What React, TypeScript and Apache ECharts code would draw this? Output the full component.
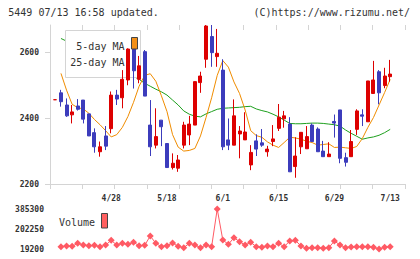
import React, { useEffect, useRef } from 'react';
import * as echarts from 'echarts';

const dates = [
  '4/14', '4/15', '4/16', '4/17', '4/20', '4/21', '4/22', '4/23', '4/24', '4/27',
  '4/28', '4/30', '5/1', '5/7', '5/8', '5/11', '5/12', '5/13', '5/14', '5/15',
  '5/18', '5/19', '5/20', '5/21', '5/22', '5/25', '5/26', '5/27', '5/28', '5/29',
  '6/1', '6/2', '6/3', '6/4', '6/5', '6/8', '6/9', '6/10', '6/11', '6/12',
  '6/15', '6/16', '6/17', '6/18', '6/19', '6/22', '6/23', '6/24', '6/25', '6/26',
  '6/29', '6/30', '7/1', '7/2', '7/3', '7/6', '7/7', '7/8', '7/9', '7/10',
  '7/13',
];
const labelDates = ['4/28', '5/18', '6/1', '6/15', '6/29', '7/13'];

const opens = [
  2456, 2477, 2440, 2410, 2437, 2455, 2413, 2356, 2298, 2346,
  2368, 2470, 2462, 2516, 2612, 2518, 2602, 2379, 2318, 2394,
  2323, 2250, 2248, 2318, 2349, 2379, 2508, 2579, 2648, 2587,
  2546, 2334, 2318, 2352, 2334, 2258, 2331, 2325, 2298, 2329,
  2369, 2398, 2382, 2253, 2313, 2307, 2379, 2367, 2300, 2283,
  2390, 2425, 2280, 2283, 2366, 2410, 2389, 2475, 2541, 2499,
  2526,
];
const closes = [
  2456, 2450, 2407, 2419, 2427, 2397, 2346, 2313, 2313, 2315,
  2470, 2458, 2518, 2610, 2544, 2559, 2467, 2313, 2344, 2374,
  2250, 2263, 2273, 2379, 2382, 2511, 2528, 2680, 2599, 2597,
  2313, 2318, 2407, 2361, 2358, 2296, 2306, 2318, 2306, 2337,
  2403, 2407, 2237, 2285, 2357, 2344, 2329, 2298, 2283, 2291,
  2385, 2278, 2266, 2329, 2422, 2406, 2513, 2516, 2477, 2528,
  2534,
];
const lows = [
  2456, 2435, 2404, 2384, 2423, 2384, 2346, 2295, 2283, 2303,
  2354, 2440, 2430, 2500, 2490, 2506, 2467, 2285, 2308, 2315,
  2249, 2244, 2237, 2308, 2318, 2379, 2477, 2553, 2556, 2556,
  2303, 2303, 2318, 2278, 2334, 2242, 2285, 2313, 2283, 2315,
  2361, 2371, 2237, 2219, 2291, 2307, 2329, 2298, 2283, 2283,
  2341, 2263, 2253, 2283, 2349, 2376, 2389, 2475, 2442, 2491,
  2511,
];
const highs = [
  2456, 2486, 2460, 2440, 2458, 2455, 2413, 2369, 2329, 2376,
  2481, 2486, 2546, 2612, 2615, 2589, 2607, 2455, 2430, 2394,
  2323, 2293, 2288, 2389, 2407, 2511, 2541, 2683, 2683, 2671,
  2579, 2399, 2457, 2376, 2418, 2318, 2351, 2367, 2316, 2379,
  2443, 2422, 2403, 2342, 2357, 2376, 2384, 2372, 2331, 2327,
  2411, 2425, 2295, 2364, 2427, 2427, 2513, 2574, 2546, 2553,
  2577,
];

const ma5 = [
  null, 2536, 2485, 2442, 2432, 2428, 2415, 2396, 2380, 2362,
  2343, 2350, 2372, 2405, 2448, 2497, 2530, 2535, 2512, 2468,
  2420, 2350, 2312, 2300, 2302, 2308, 2346, 2402, 2462, 2530,
  2575, 2555, 2510, 2475, 2425, 2362, 2347, 2342, 2328, 2318,
  2311, 2326, 2342, 2340, 2336, 2330, 2326, 2318, 2320, 2322,
  2311, 2312, 2310, 2308, 2314, 2338, 2372, 2402, 2440, 2478,
  2518,
];
const ma25 = [
  null, 2642, 2634, 2627, 2619, 2610, 2601, 2592, 2583, 2574,
  2564, 2555, 2545, 2536, 2527, 2518, 2506, 2497, 2488, 2480,
  2470, 2455, 2440, 2422, 2412, 2406, 2404, 2413, 2420, 2427,
  2430, 2431, 2432, 2433, 2435, 2436, 2428, 2423, 2419, 2412,
  2404, 2394, 2384, 2383, 2383, 2384, 2385, 2385, 2384, 2382,
  2380, 2376, 2364, 2354, 2345, 2336, 2340, 2343, 2348, 2356,
  2366,
];
const volume = [
  null, 40600, 46700, 43600, 71000, 55800, 49700, 52800, 40500, 55800,
  98500, 55800, 71000, 61900, 80200, 49700, 52800, 138200, 71000, 40500,
  49700, 74100, 43600, 31400, 71000, 55800, 31400, 55800, 40500, 385300,
  101600, 61900, 122900, 86300, 55800, 80200, 40500, 34400, 46700, 40500,
  71000, 40500, 92400, 98500, 46700, 25300, 31400, 31400, 25300, 31400,
  92400, 55800, 31400, 37500, 40500, 40500, 40500, 34400, 19200, 34400,
  40500,
];

const priceTicks = [2200, 2400, 2600];
const volumeTicks = [19200, 202250, 385300];

const RED = '#dd0000';
const BLUE = '#3c3cbc';
const ORANGE = '#f08c00';
const GREEN = '#1ea01e';
const VOL = '#ff5a64';
const AXIS = '#d4d4d4';
const TEXT = '#333';
const MONO = '"DejaVu Sans Mono", monospace';

export default function App() {
  const ref = useRef<HTMLDivElement>(null);
  useEffect(() => {
    if (!ref.current) return;
    const chart = echarts.init(ref.current, undefined, { renderer: 'svg' });
    const candles = dates.map((_, i) => [opens[i], closes[i], lows[i], highs[i]]);
    const plain = (v: number) => String(v);
    const labelFont = { fontFamily: MONO, fontSize: 8, fontWeight: 'bold' as const, color: TEXT };
    const txt = (text: string, x: number, y: number, align: string, z: number) => ({
      type: 'text',
      z,
      style: {
        text, x, y, font: `10px ${MONO}`, fill: TEXT,
        align, verticalAlign: 'middle', textAlign: align, textVerticalAlign: 'middle',
      },
    });
    chart.setOption({
      animation: false,
      backgroundColor: '#fff',
      grid: [
        { left: 52.6, width: 340.4, top: 25, height: 159 },
        { left: 50, width: 355, top: 25, height: 159 },
        { left: 52.6, width: 340.4, top: 209, height: 40 },
      ],
      xAxis: [
        {
          type: 'category', gridIndex: 0, data: dates, boundaryGap: true,
          axisLine: { show: false }, axisTick: { show: false }, splitLine: { show: false },
          axisLabel: { ...labelFont, margin: 10, interval: (_i: number, v: string) => labelDates.includes(v) },
        },
        {
          type: 'value', gridIndex: 1, min: 0, max: 11, interval: 1,
          axisLine: { show: true, lineStyle: { color: AXIS, width: 1 } },
          axisTick: { show: true, length: 5, lineStyle: { color: AXIS } },
          axisLabel: { show: false }, splitLine: { show: false },
        },
        {
          type: 'value', gridIndex: 1, min: 0, max: 11, interval: 1,
          axisLine: { show: false },
          axisTick: { show: true, inside: true, length: 5, lineStyle: { color: AXIS } },
          axisLabel: { show: false }, splitLine: { show: false },
        },
        { type: 'category', gridIndex: 2, data: dates, boundaryGap: true, show: false },
      ],
      yAxis: [
        { type: 'value', gridIndex: 0, min: 2200, max: 2683, show: false, splitLine: { show: false } },
        {
          type: 'value', gridIndex: 1, min: 2200, max: 2683,
          axisLine: { show: true, lineStyle: { color: AXIS, width: 1 } },
          axisTick: { show: true, length: 5, lineStyle: { color: AXIS }, customValues: priceTicks },
          axisLabel: { ...labelFont, margin: 11, customValues: priceTicks, formatter: plain },
          splitLine: { show: false },
        },
        {
          type: 'value', gridIndex: 1, min: 2200, max: 2683,
          axisLine: { show: false },
          axisTick: { show: true, inside: true, length: 3, lineStyle: { color: AXIS }, customValues: priceTicks },
          axisLabel: { show: false }, splitLine: { show: false },
        },
        {
          type: 'value', gridIndex: 2, min: 19200, max: 385300,
          axisLine: { show: false }, axisTick: { show: false }, splitLine: { show: false },
          axisLabel: { ...labelFont, margin: 8.6, customValues: volumeTicks, formatter: plain },
        },
      ],
      series: [
        {
          type: 'line', name: '25-day MA', xAxisIndex: 0, yAxisIndex: 0, data: ma25,
          symbol: 'none', showSymbol: false, lineStyle: { color: GREEN, width: 1 }, z: 1,
        },
        {
          type: 'line', name: '5-day MA', xAxisIndex: 0, yAxisIndex: 0, data: ma5,
          symbol: 'none', showSymbol: false, lineStyle: { color: ORANGE, width: 1 }, z: 1,
        },
        {
          type: 'candlestick', xAxisIndex: 0, yAxisIndex: 0, data: candles, barWidth: 3.5,
          itemStyle: { color: RED, color0: BLUE, borderColor: RED, borderColor0: BLUE, borderWidth: 1 },
          z: 3,
        },
        {
          type: 'line', name: 'Volume', xAxisIndex: 3, yAxisIndex: 3, data: volume,
          symbol: 'diamond', symbolSize: 7, showSymbol: true, showAllSymbol: true,
          lineStyle: { color: VOL, width: 1 }, itemStyle: { color: VOL }, z: 2,
        },
      ],
      graphic: [
        txt('5449 07/13 16:58 updated.', 8.3, 12.5, 'left', 5),
        txt('(C)https://www.rizumu.net/', 410, 12.5, 'right', 5),
        {
          type: 'rect', z: 2,
          shape: { x: 65.5, y: 30.5, width: 75, height: 47 },
          style: { fill: '#fff', stroke: AXIS, lineWidth: 1 },
        },
        txt('5-day MA', 124.5, 46, 'right', 4),
        txt('25-day MA', 124.5, 62.7, 'right', 4),
        {
          type: 'rect', z: 5,
          shape: { x: 131.5, y: 37.5, width: 6, height: 11.5 },
          style: { fill: '#f39018', stroke: '#444', lineWidth: 1 },
        },
        txt('Volume', 59, 222.3, 'left', 4),
        {
          type: 'rect', z: 5,
          shape: { x: 101.5, y: 213.5, width: 6, height: 14.5 },
          style: { fill: '#ff6060', stroke: '#444', lineWidth: 1 },
        },
      ],
    });
    return () => chart.dispose();
  }, []);
  return (
    <div
      ref={ref}
      style={{ position: 'fixed', left: 0, top: 0, width: 420, height: 259, background: '#fff' }}
    />
  );
}
